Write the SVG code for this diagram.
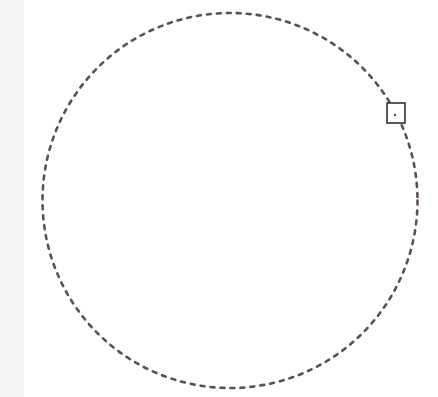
<svg xmlns="http://www.w3.org/2000/svg" width="438" height="397" viewBox="0 0 438 397">
<style>
.orbit{fill:none;stroke:#5e4f50;stroke-width:2.6;stroke-dasharray:4 6;stroke-linecap:round}
.box{fill:#fff;stroke:#333;stroke-width:1.6}
</style>
<rect x="0" y="0" width="438" height="397" fill="#fff"/>
<rect x="0" y="0" width="24" height="397" fill="#f5f5f5"/>
<g id="connectors">
<circle class="orbit" cx="230" cy="200.5" r="187.5"/>
</g>
<g id="node-box">
<rect class="box" x="387" y="103" width="18" height="20"/>
<circle cx="395" cy="115" r="1.2" fill="#555"/>
</g>
</svg>
